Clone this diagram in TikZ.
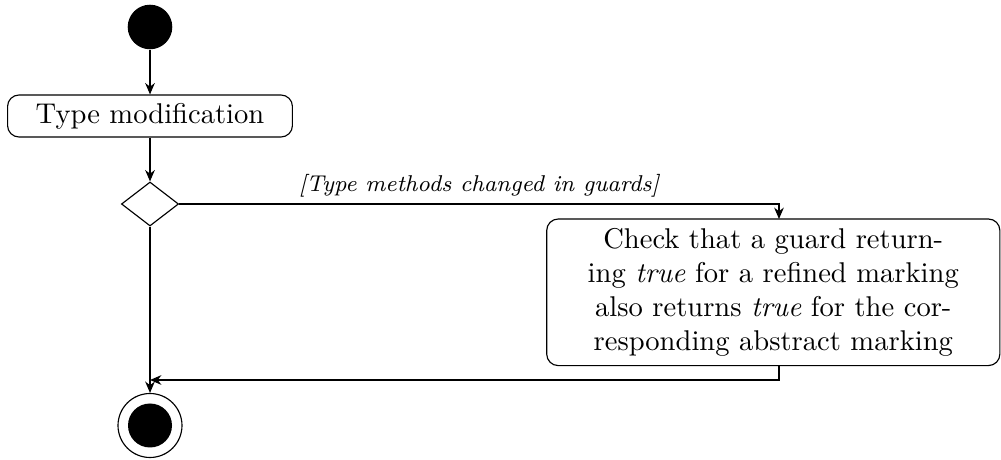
\documentclass[tikz,border=0pt]{standalone}
\usetikzlibrary{shapes.geometric,arrows.meta}
\begin{document}
\begin{tikzpicture}[x=0.35pt,y=-0.35pt,
  every path/.style={line width=0.4pt},
  arr/.style={-{Stealth[length=4pt,width=3.4pt]}},
  startnode/.style={circle,fill=black,minimum size=15.6pt,inner sep=0pt},
  action/.style={draw,rounded corners=4pt,align=center,inner sep=0pt},
  decision/.style={draw,diamond,minimum width=20pt,minimum height=15.4pt,inner sep=0pt},
  endnode/.style={draw,circle,minimum size=22.4pt,inner sep=0pt},
  guard/.style={font=\footnotesize\itshape,inner sep=2pt}]
\useasboundingbox (0,0) rectangle (1001,460);
\node[startnode] (start) at (150,27) {};
\node[action,minimum width=99.7pt,minimum height=14.7pt] (type) at (150,116) {Type modification};
\node[decision] (dec) at (150,204) {};
\node[action,minimum width=158.6pt,minimum height=51.3pt] (check) at (773.3,292.3)
  {Check that a guard return-\\ing \emph{true} for a refined marking\\also returns \emph{true} for the cor-\\responding abstract marking};
\node[endnode] (end) at (150,425.5) {};
\fill (end.center) circle (7.7pt);
\coordinate (ctop) at (779,219);
\coordinate (cbot) at (779,365.7);
\coordinate (merge) at (150,380);
\draw[arr] (start) -- (type);
\draw[arr] (type) -- (dec);
\draw[arr] (dec.east) -- node[guard,above]{[Type methods changed in guards]} (dec.east -| ctop) -- (ctop);
\draw[arr] (cbot) |- (merge);
\draw[arr] (dec) -- (end);
\end{tikzpicture}
\end{document}
